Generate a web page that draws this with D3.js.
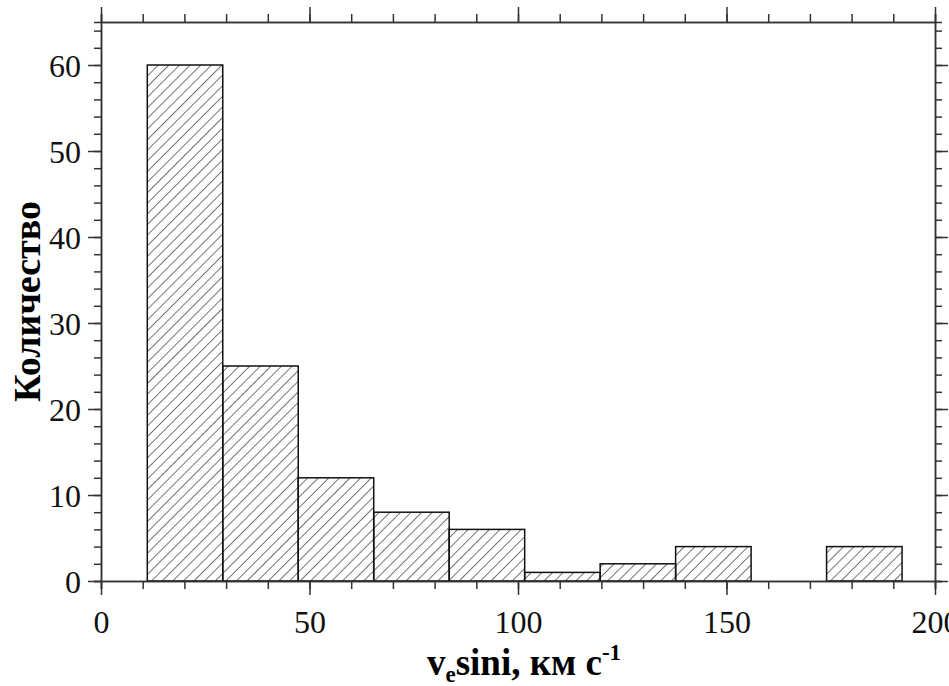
<!DOCTYPE html>
<html>
<head>
<meta charset="utf-8">
<script src="https://cdn.jsdelivr.net/npm/d3@7"></script>
<style>
  body { margin: 0; background: #fff; }
  svg { display: block; }
  .axis path, .axis line { stroke: #333; stroke-width: 1.5px; }
  .axis text { font-family: "Liberation Serif", "Times New Roman", serif; font-size: 32px; fill: #111; }
</style>
</head>
<body>
<div id="chart"></div>
<script>
// histogram bins (km/s) and counts
const binEdges = [11.1, 29.2, 47.3, 65.4, 83.5, 101.6, 119.7, 137.8, 155.9, 174.0, 192.1];
const counts = [60, 25, 12, 8, 6, 1, 2, 4, 0, 4];
const xTicks = [0, 50, 100, 150, 200];
const yTicks = [0, 10, 20, 30, 40, 50, 60];

let width = 949, height = 686;
let margin = {top: 22, right: 14, bottom: 105, left: 101};

let svg = d3.select("#chart")
    .append("svg")
        .attr("width", width)
        .attr("height", height);

//hatch pattern for bars
svg.append("defs").append("pattern")
    .attr("id", "hatch")
    .attr("patternUnits", "userSpaceOnUse")
    .attr("width", 7.5)
    .attr("height", 7.5)
    .attr("patternTransform", "rotate(45)")
  .append("line")
    .attr("x1", 0).attr("y1", 0)
    .attr("x2", 0).attr("y2", 7.5)
    .attr("stroke", "#1a1a1a")
    .attr("stroke-width", 1.2);

let x = d3.scaleLinear()
    .domain([0, 200])
    .range([margin.left, width - margin.right]);

let y = d3.scaleLinear()
    .domain([0, 65])
    .range([height - margin.bottom, margin.top]);

let bins = counts.map((c, i) => ({x0: binEdges[i], x1: binEdges[i + 1], n: c}))
    .filter(d => d.n > 0);

//bars
svg.append("g")
    .selectAll("rect")
    .data(bins)
    .enter()
    .append("rect")
        .attr("x", d => x(d.x0))
        .attr("y", d => y(d.n))
        .attr("width", d => x(d.x1) - x(d.x0))
        .attr("height", d => y(0) - y(d.n))
        .attr("fill", "url(#hatch)")
        .attr("stroke", "#111")
        .attr("stroke-width", 1.5);

//minor ticks on all four sides
let minorX = d3.range(0, 201, 10);
let minorY = d3.range(0, 65, 2);
function addAxis(axis, transform) {
    return svg.append("g")
        .attr("class", "axis")
        .attr("transform", transform)
        .call(axis);
}

addAxis(d3.axisBottom(x).tickValues(minorX).tickSize(8).tickFormat(""), `translate(0,${y(0)})`);
addAxis(d3.axisTop(x).tickValues(minorX).tickSize(8).tickFormat(""), `translate(0,${y(65)})`);
addAxis(d3.axisLeft(y).tickValues(minorY).tickSize(7).tickFormat(""), `translate(${x(0)},0)`);
addAxis(d3.axisRight(y).tickValues(minorY).tickSize(7).tickFormat(""), `translate(${x(200)},0)`);

//major ticks + labels
let xb = addAxis(d3.axisBottom(x).tickValues(xTicks).tickSize(14).tickSizeOuter(0), `translate(0,${y(0)})`);
xb.selectAll("text").attr("y", 52).attr("dy", null);
addAxis(d3.axisTop(x).tickValues(xTicks).tickSize(15).tickSizeOuter(0).tickFormat(""), `translate(0,${y(65)})`);
addAxis(d3.axisLeft(y).tickValues(yTicks).tickSize(13).tickSizeOuter(0).tickPadding(7), `translate(${x(0)},0)`)
    .selectAll("text").attr("dy", "0.35em");
addAxis(d3.axisRight(y).tickValues(yTicks).tickSize(13).tickSizeOuter(0).tickFormat(""), `translate(${x(200)},0)`);

//axis titles
let yTitle = svg.append("text")
    .attr("transform", `translate(40, ${(y(0) + y(65)) / 2}) rotate(-90)`)
    .style("text-anchor", "middle")
    .style("font-family", "'Liberation Serif', 'Times New Roman', serif")
    .style("font-weight", "bold")
    .style("font-size", "38px")
    .text("Количество");

let xTitle = svg.append("text")
    .attr("x", (x(0) + x(200)) / 2 + 6)
    .attr("y", 675)
    .style("text-anchor", "middle")
    .style("font-family", "'Liberation Serif', 'Times New Roman', serif")
    .style("font-weight", "bold")
    .style("font-size", "37px");
xTitle.append("tspan").text("v");
xTitle.append("tspan").attr("dy", 7).style("font-size", "23px").text("e");
xTitle.append("tspan").attr("dy", -7).text("sini, км с");
xTitle.append("tspan").attr("dy", -15).style("font-size", "23px").text("-1");
</script>
</body>
</html>
